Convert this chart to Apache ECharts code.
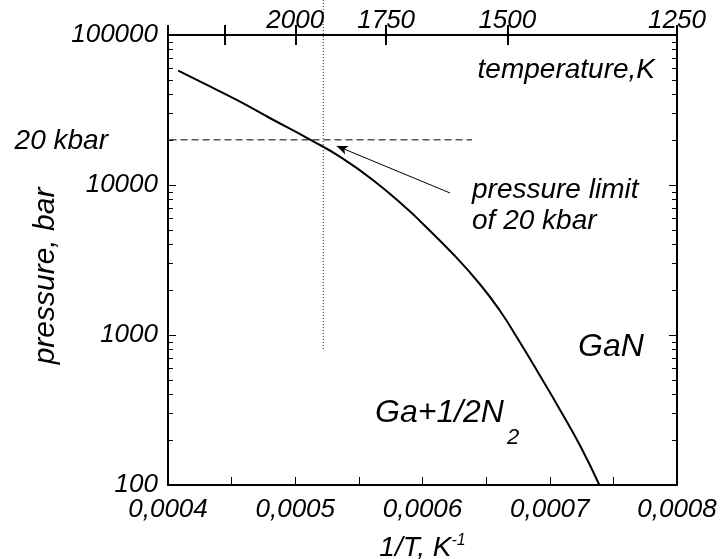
<!DOCTYPE html>
<html>
<head>
<meta charset="utf-8">
<script src="https://cdn.jsdelivr.net/npm/echarts@6/dist/echarts.min.js"></script>
<style>
html,body{margin:0;padding:0;background:#fff;}
#c{width:725px;height:559px;}
</style>
</head>
<body>
<div id="c"></div>
<script>
// ---- data ----
var invT = [0.000408, 0.000429, 0.000454, 0.000480, 0.000512, 0.000535, 0.000561, 0.000588, 0.000598, 0.000624, 0.000645, 0.000661, 0.000675, 0.000692, 0.000708, 0.000724, 0.000739];
var pressure = [57800, 47150, 36900, 27970, 20000, 15450, 10800, 6918, 5754, 3467, 2188, 1445, 940, 541, 318, 182, 100];
var limitX = [0.000358, 0.000639];      // dashed 20 kbar line extent
var limitP = 20000;
var markerX = 0.000522;                 // vertical dotted line
var markerP = [171000, 794];
var arrowFrom = [0.0006216, 8850];
var arrowTo = [0.0005326, 18200];
var tempTicks = [2500, 2250, 2000, 1750, 1500, 1250];
var tempLabels = [2000, 1750, 1500, 1250];
var minorP = [200,300,400,500,600,700,800,900,2000,3000,4000,5000,6000,7000,8000,9000,20000,30000,40000,50000,60000,70000,80000,90000];

var FONT = 'Liberation Sans';
var chart = echarts.init(document.getElementById('c'));

function logAxis(pos, opts) {
  var a = {
    type: 'log', logBase: 10, min: 100, max: 100000, position: pos, gridIndex: 0,
    axisLine: {show: false, lineStyle: {color: '#000', width: 2}},
    axisTick: {show: true, inside: true, length: 8, lineStyle: {color: '#000', width: 1}},
    axisLabel: {show: false},
    splitLine: {show: false},
    minorTick: {show: false},
    minorSplitLine: {show: false}
  };
  for (var k in opts) a[k] = opts[k];
  return a;
}

var option = {
  backgroundColor: '#fff',
  animation: false,
  grid: {left: 168, right: 48, top: 35, bottom: 74, outerBoundsMode: 'none', containLabel: false},
  xAxis: [
    {
      type: 'value', position: 'bottom', min: 0.0004, max: 0.0008, interval: 0.0001,
      axisLine: {show: true, lineStyle: {color: '#000', width: 2}},
      axisTick: {show: true, inside: true, length: 8, lineStyle: {color: '#000', width: 1}},
      minorTick: {show: true, splitNumber: 2, length: 8, lineStyle: {color: '#000', width: 1}},
      splitLine: {show: false},
      axisLabel: {
        margin: 12, fontFamily: FONT, fontStyle: 'italic', fontSize: 26, color: '#000',
        formatter: function (v) { return v.toFixed(4).replace('.', ','); }
      },
      name: '{n|1/T, K}{s|-1}', nameLocation: 'middle', nameGap: 48,
      nameTextStyle: {
        rich: {
          n: {fontFamily: FONT, fontStyle: 'italic', fontSize: 28, color: '#000', lineHeight: 30},
          s: {fontFamily: FONT, fontStyle: 'italic', fontSize: 16, color: '#000', verticalAlign: 'top', lineHeight: 30}
        }
      }
    },
    {
      type: 'value', position: 'top', min: 0.0004, max: 0.0008,
      axisLine: {show: true, lineStyle: {color: '#000', width: 2}},
      axisTick: {show: true, inside: false, length: 10, customValues: tempTicks.map(function (t) { return 1 / t; }), lineStyle: {color: '#000', width: 2}},
      splitLine: {show: false},
      axisLabel: {
        show: true, margin: 1, fontFamily: FONT, fontStyle: 'italic', fontSize: 26, color: '#000',
        customValues: tempLabels.map(function (t) { return 1 / t; }),
        formatter: function (v) { return String(Math.round(1 / v)); }
      }
    },
    {
      type: 'value', position: 'top', min: 0.0004, max: 0.0008,
      axisLine: {show: false},
      axisTick: {show: true, inside: true, length: 10, customValues: tempTicks.map(function (t) { return 1 / t; }), lineStyle: {color: '#000', width: 2}},
      splitLine: {show: false},
      axisLabel: {show: false}
    }
  ],
  yAxis: [
    logAxis('left', {
      axisLine: {show: true, lineStyle: {color: '#000', width: 2}},
      axisLabel: {
        show: true, margin: 10, fontFamily: FONT, fontStyle: 'italic', fontSize: 26, color: '#000',
        padding: [8, 0, 0, 0],
        formatter: function (v) { return String(Math.round(v)); }
      },
      name: 'pressure, bar', nameLocation: 'middle', nameRotate: 90, nameGap: 82,
      nameTextStyle: {fontFamily: FONT, fontStyle: 'italic', fontSize: 30, color: '#000', padding: [0, 32, 0, 0]}
    }),
    logAxis('left', {axisTick: {show: true, inside: true, length: 5, customValues: minorP, lineStyle: {color: '#000', width: 1}}}),
    logAxis('right', {axisLine: {show: true, lineStyle: {color: '#000', width: 2}}}),
    logAxis('right', {axisTick: {show: true, inside: true, length: 5, customValues: minorP, lineStyle: {color: '#000', width: 1}}})
  ],
  series: [
    {
      type: 'line', name: 'GaN equilibrium', xAxisIndex: 0, yAxisIndex: 0,
      data: invT.map(function (x, i) { return [x, pressure[i]]; }),
      smooth: 0.5, showSymbol: false, symbol: 'none',
      lineStyle: {color: '#000', width: 2}
    },
    {
      type: 'line', name: '20 kbar', xAxisIndex: 0, yAxisIndex: 0, clip: false,
      data: limitX.map(function (x) { return [x, limitP]; }),
      symbol: 'none', lineStyle: {color: '#000', width: 1, type: [7, 4]},
      markLine: {
        silent: true, symbol: ['none', 'arrow'], symbolSize: [7, 11],
        label: {show: false},
        lineStyle: {color: '#000', width: 1, type: 'solid'},
        data: [[{coord: arrowFrom}, {coord: arrowTo}]]
      }
    },
    {
      type: 'line', name: 'marker', xAxisIndex: 0, yAxisIndex: 0, clip: false,
      data: markerP.map(function (p) { return [markerX, p]; }),
      symbol: 'none', lineStyle: {color: '#222', width: 1, type: [1, 2]}
    }
  ],
  graphic: [
    {type: 'text', x: 655, y: 70, style: {text: 'temperature,K', font: 'italic 28px "Liberation Sans"', fill: '#000', align: 'right', verticalAlign: 'middle'}},
    {type: 'text', x: 108, y: 141, style: {text: '20 kbar', font: 'italic 28px "Liberation Sans"', fill: '#000', align: 'right', verticalAlign: 'middle'}},
    {type: 'text', x: 472, y: 190, style: {text: 'pressure limit', font: 'italic 28px "Liberation Sans"', fill: '#000', align: 'left', verticalAlign: 'middle'}},
    {type: 'text', x: 472, y: 221, style: {text: 'of 20 kbar', font: 'italic 28px "Liberation Sans"', fill: '#000', align: 'left', verticalAlign: 'middle'}},
    {type: 'text', x: 578, y: 347, style: {text: 'GaN', font: 'italic 32px "Liberation Sans"', fill: '#000', align: 'left', verticalAlign: 'middle'}},
    {type: 'text', x: 375, y: 413, style: {text: 'Ga+1/2N', font: 'italic 32px "Liberation Sans"', fill: '#000', align: 'left', verticalAlign: 'middle'}},
    {type: 'text', x: 507, y: 438, style: {text: '2', font: 'italic 22px "Liberation Sans"', fill: '#000', align: 'left', verticalAlign: 'middle'}}
  ]
};
chart.setOption(option);
</script>
</body>
</html>
